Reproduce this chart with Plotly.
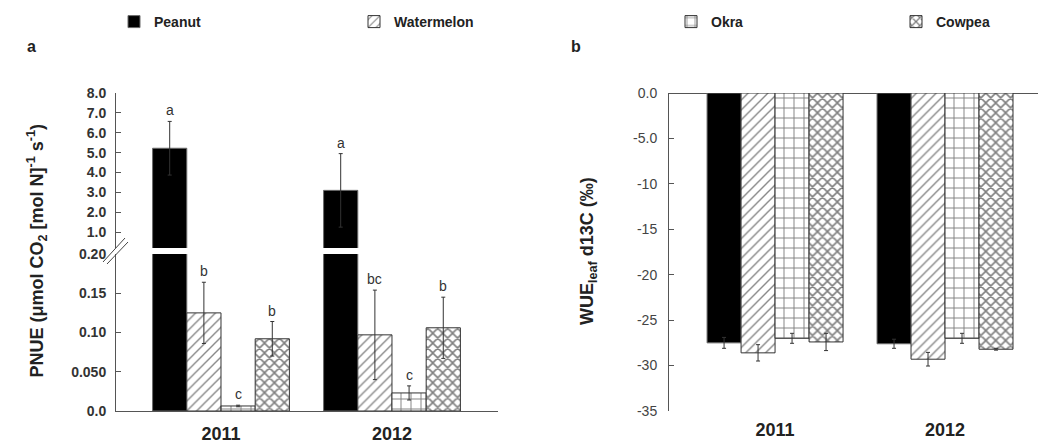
import plotly.graph_objects as go

W, H = 1038, 443

years = ["2011", "2012"]
crops = ["Peanut", "Watermelon", "Okra", "Cowpea"]

# PNUE values (umol CO2 [mol N]^-1 s^-1), per crop: [2011, 2012]
pnue = {
    "Peanut": [5.22, 3.1],
    "Watermelon": [0.125, 0.097],
    "Okra": [0.0064, 0.023],
    "Cowpea": [0.092, 0.106],
}
pnue_err = {
    "Peanut": [1.35, 1.85],
    "Watermelon": [0.039, 0.057],
    "Okra": [0.001, 0.009],
    "Cowpea": [0.022, 0.039],
}
pnue_letters = {
    "Peanut": ["a", "a"],
    "Watermelon": ["b", "bc"],
    "Okra": ["c", "c"],
    "Cowpea": ["b", "b"],
}

# WUE_leaf d13C (permil)
wue = {
    "Peanut": [-27.5, -27.6],
    "Watermelon": [-28.6, -29.3],
    "Okra": [-27.0, -27.0],
    "Cowpea": [-27.4, -28.2],
}
wue_err = {
    "Peanut": [0.6, 0.5],
    "Watermelon": [0.9, 0.75],
    "Okra": [0.55, 0.55],
    "Cowpea": [0.95, 0.1],
}

lower_ticks = [0.0, 0.05, 0.10, 0.15, 0.20]
lower_ticktext = ["0.0", "0.050", "0.10", "0.15", "0.20"]
upper_ticks = [1, 2, 3, 4, 5, 6, 7, 8]
upper_ticktext = ["1.0", "2.0", "3.0", "4.0", "5.0", "6.0", "7.0", "8.0"]
wue_ticks = [0, -5, -10, -15, -20, -25, -30, -35]
wue_ticktext = ["0.0", "-5.0", "-10", "-15", "-20", "-25", "-30", "-35"]

pnue_title = "<b>PNUE (μmol CO<sub>2</sub> [mol N]<sup>-1</sup> s<sup>-1</sup>)</b>"
wue_title = "<b>WUE<sub>leaf</sub> d13C (‰)</b>"

styles = {
    "Peanut": dict(color="black", line=dict(color="#6a6a6a", width=1)),
    "Watermelon": dict(color="white", line=dict(color="#333", width=1),
                       pattern=dict(shape="/", fgcolor="#111", bgcolor="white", size=7, solidity=0.2)),
    "Okra": dict(color="white", line=dict(color="#333", width=1),
                 pattern=dict(shape="+", fgcolor="#000", bgcolor="white", size=10, solidity=0.18)),
    "Cowpea": dict(color="white", line=dict(color="#333", width=1),
                   pattern=dict(shape="x", fgcolor="#000", bgcolor="white", size=7, solidity=0.4)),
}
legend_names = ["legend", "legend2", "legend3", "legend4"]
legend_left_px = [114, 354, 671, 896]

xpos = [0, 1]
bargap = 0.2
bw = (1 - bargap) / len(crops)

FONT = "Liberation Sans, Arial"


def px_x(p):
    return p / W


def px_y(p):
    return 1 - p / H


fig = go.Figure()
eb = dict(type="data", color="#333", thickness=1, width=2, visible=True)

for i, c in enumerate(crops):
    # lower segment of panel a
    fig.add_trace(go.Bar(
        x=xpos, y=pnue[c], name="<b>%s</b>" % c, marker=styles[c], xaxis="x", yaxis="y",
        error_y=dict(eb, array=pnue_err[c]) if c != "Peanut" else None,
        legend=legend_names[i], showlegend=True,
    ))
    # upper segment of panel a
    fig.add_trace(go.Bar(
        x=xpos, y=pnue[c], name=c, marker=styles[c], xaxis="x", yaxis="y2",
        error_y=dict(eb, array=pnue_err[c]) if c == "Peanut" else None,
        showlegend=False,
    ))
    # panel b
    fig.add_trace(go.Bar(
        x=xpos, y=wue[c], name=c, marker=styles[c], xaxis="x2", yaxis="y3",
        error_y=dict(eb, array=wue_err[c]), showlegend=False,
    ))

annotations = []
for i, c in enumerate(crops):
    off = (i - (len(crops) - 1) / 2) * bw
    for j, x in enumerate(xpos):
        annotations.append(dict(
            x=x + off, y=pnue[c][j] + pnue_err[c][j], xref="x",
            yref="y2" if c == "Peanut" else "y",
            text=pnue_letters[c][j], showarrow=False, yanchor="bottom", yshift=1,
            font=dict(family=FONT, size=14, color="#333"),
        ))

annotations += [
    dict(x=px_x(25), y=px_y(46), xref="paper", yref="paper", text="<b>a</b>", showarrow=False,
         yanchor="middle", font=dict(family=FONT, size=16, color="#222")),
    dict(x=px_x(576), y=px_y(46), xref="paper", yref="paper", text="<b>b</b>", showarrow=False,
         yanchor="middle", font=dict(family=FONT, size=16, color="#222")),
    dict(x=px_x(22), y=px_y(251), xref="paper", yref="paper", text=pnue_title, showarrow=False,
         textangle=-90, font=dict(family=FONT, size=18, color="#222")),
    dict(x=px_x(588), y=px_y(251), xref="paper", yref="paper", text=wue_title, showarrow=False,
         textangle=-90, font=dict(family=FONT, size=18, color="#222")),
]

shapes = [
    dict(type="line", xref="paper", yref="paper", x0=px_x(103), y0=px_y(262), x1=px_x(125), y1=px_y(238),
         line=dict(color="#444", width=1)),
    dict(type="line", xref="paper", yref="paper", x0=px_x(107), y0=px_y(264), x1=px_x(128), y1=px_y(242),
         line=dict(color="#444", width=1)),
]

tickfont_l = dict(family=FONT, size=14, color="#333")
tickfont_r = dict(family=FONT, size=14, color="#444")
axis_common = dict(showgrid=False, zeroline=False, showline=True, linecolor="#555", linewidth=1,
                   ticks="inside", ticklen=5, tickcolor="#555")

xrange_a = [-0.614, 1.62]
xrange_b = [-0.624, 1.547]

layout = dict(
    width=W, height=H, margin=dict(l=0, r=0, t=0, b=0, autoexpand=False),
    paper_bgcolor="white", plot_bgcolor="white",
    barmode="group", bargap=bargap, bargroupgap=0,
    xaxis=dict(domain=[px_x(116), px_x(498)], range=xrange_a, anchor="y",
               tickvals=xpos, ticktext=["<b>%s</b>" % y for y in years],
               showgrid=False, zeroline=False, showline=True, linecolor="#555", ticks="",
               ticklabelstandoff=6,
               tickfont=dict(family=FONT, size=18, color="#222")),
    yaxis=dict(axis_common, domain=[px_y(411), px_y(254)], range=[0, 0.2], anchor="x",
               tickvals=lower_ticks, ticktext=["<b>%s</b>" % t for t in lower_ticktext],
               tickfont=tickfont_l, ticklabelstandoff=6),
    yaxis2=dict(axis_common, domain=[px_y(248), px_y(93)], range=[0.2, 8.0], anchor="x",
                tickvals=upper_ticks, ticktext=["<b>%s</b>" % t for t in upper_ticktext],
                tickfont=tickfont_l, ticklabelstandoff=6),
    xaxis2=dict(domain=[px_x(669), 1.0], range=xrange_b, anchor="y3",
                tickvals=xpos, ticktext=["<b>%s</b>" % y for y in years],
                showgrid=False, zeroline=False, showline=False, ticks="",
                ticklabelstandoff=6,
                tickfont=dict(family=FONT, size=18, color="#222")),
    yaxis3=dict(axis_common, domain=[px_y(411), px_y(93)], range=[-35, 0], anchor="x2",
                tickvals=wue_ticks, ticktext=wue_ticktext, tickfont=tickfont_r, ticklabelstandoff=8,
                zeroline=True, zerolinecolor="#555", zerolinewidth=1),
    annotations=annotations,
    shapes=shapes,
)

legend_font = dict(family=FONT, size=14, color="#222")
for name, lx in zip(legend_names, legend_left_px):
    layout[name] = dict(x=px_x(lx), y=px_y(22), xanchor="left", yanchor="middle",
                        orientation="h", font=legend_font, bgcolor="rgba(0,0,0,0)",
                        borderwidth=0, itemwidth=30)

fig.update_layout(**layout)
fig.write_html("out.html")
